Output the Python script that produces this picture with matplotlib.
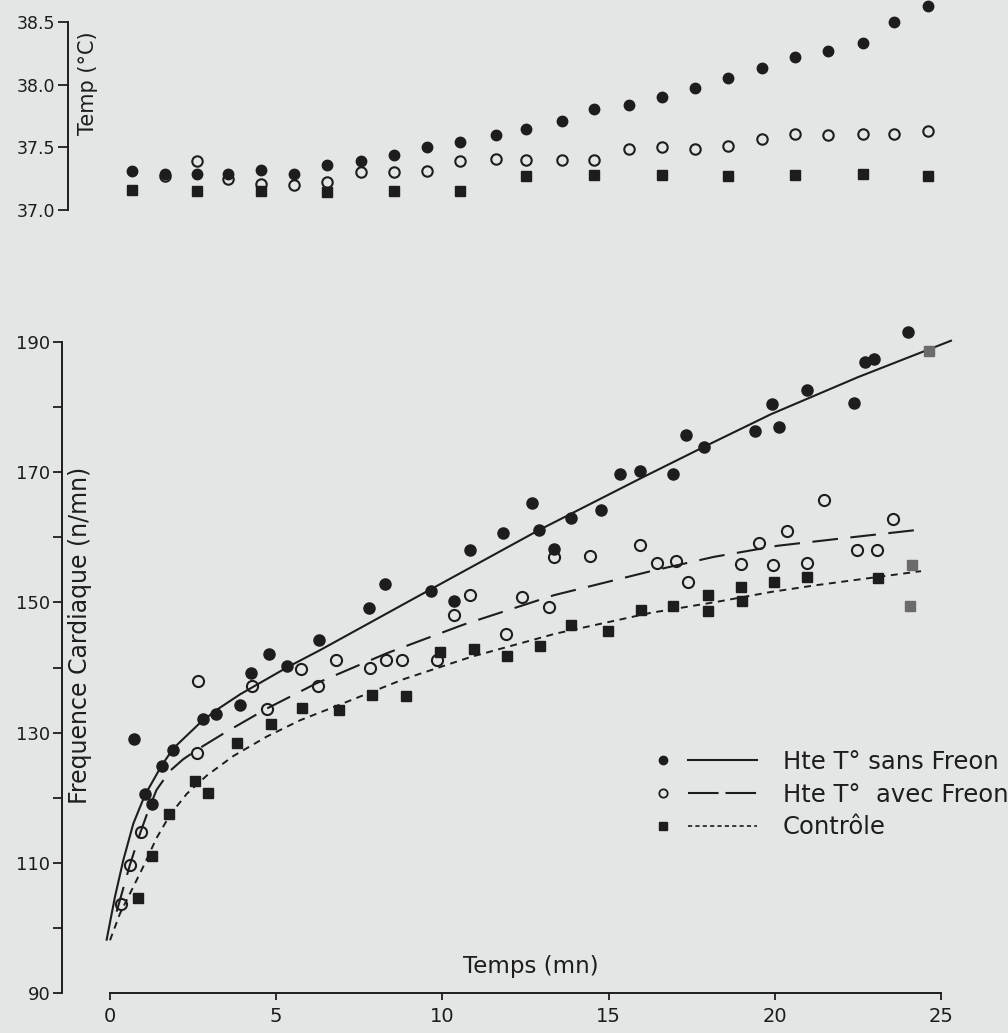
import matplotlib
matplotlib.use('Agg')
import matplotlib.pyplot as plt
from matplotlib.lines import Line2D
from matplotlib.legend_handler import HandlerBase
from matplotlib.ticker import FixedLocator, FormatStrFormatter, NullFormatter

plt.rcParams['lines.scale_dashes'] = False
plt.rcParams['font.family'] = ['DejaVu Sans']

# ---------------- data: temperature panel ----------------
temp_sans_t = [0.66, 1.66, 2.62, 3.55, 4.55, 5.54, 6.54, 7.56, 8.55, 9.55, 10.54, 11.6,
               12.53, 13.6, 14.55, 15.6, 16.6, 17.6, 18.6, 19.6, 20.6, 21.6, 22.65, 23.6, 24.6]
temp_sans = [37.31, 37.29, 37.29, 37.29, 37.32, 37.29, 37.36, 37.39, 37.44, 37.50, 37.54, 37.60,
             37.65, 37.71, 37.81, 37.84, 37.90, 37.97, 38.05, 38.13, 38.22, 38.27, 38.33, 38.50, 38.63]
temp_avec_t = [1.66, 2.62, 3.55, 4.55, 5.54, 6.54, 7.56, 8.55, 9.55, 10.54, 11.6,
               12.53, 13.6, 14.55, 15.6, 16.6, 17.6, 18.6, 19.6, 20.6, 21.6, 22.65, 23.6, 24.6]
temp_avec = [37.27, 37.39, 37.25, 37.21, 37.20, 37.22, 37.30, 37.30, 37.31, 37.39, 37.41,
             37.40, 37.40, 37.40, 37.49, 37.50, 37.49, 37.51, 37.57, 37.61, 37.60, 37.61, 37.61, 37.63]
temp_ctrl_t = [0.66, 2.62, 4.55, 6.54, 8.55, 10.54, 12.53, 14.55, 16.6, 18.6, 20.6, 22.65, 24.6]
temp_ctrl = [37.16, 37.15, 37.15, 37.14, 37.15, 37.15, 37.27, 37.28, 37.28, 37.27, 37.28, 37.29, 37.27]

# ---------------- data: heart-rate panel ----------------
hr_sans_t = [0.73, 1.05, 1.27, 1.56, 1.89, 2.79, 3.19, 3.92, 4.24, 4.78, 5.32, 6.29, 7.78, 8.28,
             9.67, 10.36, 10.82, 11.83, 12.70, 12.90, 13.37, 13.88, 14.78, 15.34, 15.94, 16.93,
             17.32, 17.87, 19.40, 19.93, 20.13, 20.96, 22.37, 22.70, 22.98, 24.01]
hr_sans = [129.0, 120.5, 119.0, 124.8, 127.3, 132.1, 132.9, 134.2, 139.2, 142.1, 140.2, 144.2, 149.2,
           152.9, 151.7, 150.2, 158.0, 160.6, 165.2, 161.1, 158.2, 162.9, 164.2, 169.8, 170.2, 169.8,
           175.7, 173.9, 176.4, 180.5, 177.0, 182.7, 180.6, 187.0, 187.4, 191.6]
hr_avec_t = [0.32, 0.60, 0.92, 2.63, 2.64, 4.28, 4.72, 5.75, 6.27, 6.81, 7.81, 8.31, 8.78, 9.84,
             10.34, 10.82, 11.90, 12.40, 13.21, 13.37, 14.44, 15.94, 16.46, 17.02, 17.40, 18.98,
             19.53, 19.96, 20.38, 20.96, 21.49, 22.47, 23.07, 23.56]
hr_avec = [103.7, 109.7, 114.7, 126.9, 138.0, 137.2, 133.6, 139.8, 137.2, 141.2, 140.0, 141.1, 141.1,
           141.2, 148.0, 151.1, 145.2, 150.9, 149.3, 157.0, 157.1, 158.8, 156.1, 156.4, 153.1, 155.9,
           159.2, 155.8, 160.9, 156.0, 165.7, 158.0, 158.1, 162.8]
hr_ctrl_t = [0.85, 1.27, 1.78, 2.56, 2.96, 3.81, 4.84, 5.79, 6.88, 7.88, 8.89, 9.92, 10.96, 11.93,
             12.93, 13.86, 14.98, 15.96, 16.95, 17.99, 17.99, 18.98, 19.02, 19.98, 20.96, 23.11]
hr_ctrl = [104.6, 111.1, 117.5, 122.5, 120.7, 128.4, 131.3, 133.8, 133.5, 135.8, 135.6, 142.4, 142.8,
           141.8, 143.3, 146.5, 145.6, 148.8, 149.5, 151.1, 148.7, 152.3, 150.2, 153.1, 153.9, 153.8]
hr_grey_t = [24.64, 24.12, 24.08]
hr_grey = [188.6, 155.7, 149.4]

# fitted curves
fit_sans_t = [-0.1, 0.15, 0.4, 0.7, 1.05, 1.56, 1.91, 2.71, 3.21, 3.92, 5.32, 6.33, 9.0, 12.9,
              15.94, 17.87, 19.88, 22.5, 25.3]
fit_sans = [98.2, 104.8, 110.4, 116.0, 120.4, 125.0, 127.6, 131.5, 133.5, 135.9, 140.0, 142.7, 150.2,
            161.1, 169.0, 173.9, 178.9, 184.6, 190.2]
fit_avec_t = [0.2, 0.6, 0.93, 1.15, 1.4, 1.8, 2.2, 2.66, 3.46, 4.72, 6.22, 8.33, 10.64, 13.35,
              16.27, 18.17, 20.08, 22.3, 24.4]
fit_avec = [102.5, 109.7, 114.9, 118.0, 121.2, 124.1, 125.9, 127.5, 130.0, 133.7, 137.6, 142.2,
            146.6, 151.1, 154.8, 157.0, 158.7, 160.0, 161.2]
fit_ctrl_t = [0.0, 0.3, 0.7, 1.0, 1.4, 1.81, 2.31, 2.91, 3.71, 4.72, 5.72, 6.72, 8.83, 10.84, 13.4,
              16.27, 18.27, 19.88, 21.18, 24.4]
fit_ctrl = [98.1, 102.2, 106.3, 109.4, 113.8, 117.4, 120.6, 123.4, 126.4, 129.4, 131.9, 133.9, 138.2,
            141.6, 145.2, 148.4, 150.1, 151.6, 152.6, 154.8]

x_ticks = [0, 5, 10, 15, 20, 25]
hr_major = [90, 110, 130, 150, 170, 190]
hr_minor = [100, 120, 140, 160, 180]
temp_ticks = [37.0, 37.5, 38.0, 38.5]
labels = ['Hte T° sans Freon', 'Hte T°  avec Freon', 'Contrôle']

INK = '#1d1d1d'
BG = '#e3e6e5'
GREY = '#6b6b6b'

fig = plt.figure(figsize=(10.08, 10.33), dpi=100, facecolor=BG)


def px2pt(p):
    return p * 72.0 / 100.0


# ---------------- bottom (heart rate) ----------------
ax = fig.add_axes([110 / 1008, 40 / 1033, 831 / 1008, 670.5 / 1033])
ax.set_facecolor('none')
ax.set_xlim(0, 25)
ax.set_ylim(90, 193)
for s in ['top', 'right']:
    ax.spines[s].set_visible(False)
ax.spines['left'].set_position(('outward', px2pt(48)))
ax.spines['left'].set_bounds(90, 190)
ax.spines['bottom'].set_bounds(0, 25)
for s in ['left', 'bottom']:
    ax.spines[s].set_color(INK)
    ax.spines[s].set_linewidth(1.4)
ax.xaxis.set_major_locator(FixedLocator(x_ticks))
ax.yaxis.set_major_locator(FixedLocator(hr_major))
ax.yaxis.set_minor_locator(FixedLocator(hr_minor))
ax.yaxis.set_minor_formatter(NullFormatter())
ax.tick_params(axis='y', which='both', direction='out', length=6.5, width=1.3,
               color=INK, labelcolor=INK, labelsize=13, pad=2)
ax.tick_params(axis='x', direction='out', length=5, width=1.3, color=INK,
               labelcolor=INK, labelsize=14, pad=5)

ax.plot(fit_sans_t, fit_sans, color=INK, lw=1.5, clip_on=False, zorder=2)
ax.plot(fit_avec_t, fit_avec, color=INK, lw=1.5, ls=(0, (18.5, 9)), clip_on=False, zorder=2)
ax.plot(fit_ctrl_t, fit_ctrl, color=INK, lw=1.4, ls=(0, (5, 4)), clip_on=False, zorder=2)

ax.plot(hr_sans_t, hr_sans, 'o', ms=8, color=INK, mec=INK, clip_on=False, zorder=3)
ax.plot(hr_avec_t, hr_avec, 'o', ms=8, mfc='none', mec=INK, mew=1.5, clip_on=False, zorder=3)
ax.plot(hr_ctrl_t, hr_ctrl, 's', ms=6.5, color=INK, clip_on=False, zorder=3)
ax.plot(hr_grey_t, hr_grey, 's', ms=7, color=GREY, clip_on=False, zorder=3)

ax.text(0.506, 0.039, 'Temps (mn)', transform=ax.transAxes, ha='center', va='center',
        fontsize=16.5, color=INK)
fig.text(80 / 1008, 1 - 635 / 1033, 'Frequence Cardiaque (n/mn)', rotation=90,
         ha='center', va='center', fontsize=17, color=INK)

# ---------------- top (temperature) ----------------
at = fig.add_axes([110 / 1008, 1 - 210 / 1033, 831 / 1008, 208 / 1033])
at.set_facecolor('none')
at.set_xlim(0, 25)
at.set_ylim(37.0, 38.66)
for s in ['top', 'right', 'bottom']:
    at.spines[s].set_visible(False)
at.spines['left'].set_position(('outward', px2pt(42)))
at.spines['left'].set_bounds(37.0, 38.5)
at.spines['left'].set_color(INK)
at.spines['left'].set_linewidth(1.4)
at.set_xticks([])
at.yaxis.set_major_locator(FixedLocator(temp_ticks))
at.yaxis.set_major_formatter(FormatStrFormatter('%.1f'))
at.tick_params(axis='y', direction='out', length=7, width=1.3, color=INK,
               labelcolor=INK, labelsize=12.5, pad=2)

at.plot(temp_ctrl_t, temp_ctrl, 's', ms=6.5, color=INK, clip_on=False, zorder=3)
at.plot(temp_avec_t, temp_avec, 'o', ms=7.5, mfc='none', mec=INK, mew=1.5, clip_on=False, zorder=3)
at.plot(temp_sans_t, temp_sans, 'o', ms=7.5, color=INK, clip_on=False, zorder=4)

fig.text(88 / 1008, 1 - 83 / 1033, 'Temp (°C)', rotation=90, ha='center', va='center',
         fontsize=15, color=INK)


# ---------------- legend ----------------
class Pair:
    def __init__(self, mk, ln):
        self.mk = mk
        self.ln = ln


class PairHandler(HandlerBase):
    def create_artists(self, legend, orig_handle, xdescent, ydescent, width, height,
                       fontsize, trans):
        y = height / 2 - ydescent
        x0 = -xdescent
        m = Line2D([x0 + 0.08 * width], [y], ls='None', **orig_handle.mk)
        l = Line2D([x0 + 0.32 * width, x0 + width], [y, y], **orig_handle.ln)
        m.set_transform(trans)
        l.set_transform(trans)
        return [l, m]


handles = [
    Pair(dict(marker='o', ms=6, mfc=INK, mec=INK), dict(color=INK, lw=1.5)),
    Pair(dict(marker='o', ms=6, mfc='none', mec=INK, mew=1.3), dict(color=INK, lw=1.5, ls=(0, (22, 5)))),
    Pair(dict(marker='s', ms=5.5, mfc=INK, mec=INK), dict(color=INK, lw=1.2, ls=(0, (3, 2.3)))),
]
leg = fig.legend(handles, labels, handler_map={Pair: PairHandler()}, loc='upper left',
                 bbox_to_anchor=(655 / 1008, 1 - 750 / 1033), frameon=False, fontsize=17.5,
                 handlelength=4.2, handletextpad=1.07, labelspacing=0.36, borderpad=0,
                 borderaxespad=0)
for t in leg.get_texts():
    t.set_color(INK)

fig.savefig('out.png', dpi=100, facecolor=BG)
